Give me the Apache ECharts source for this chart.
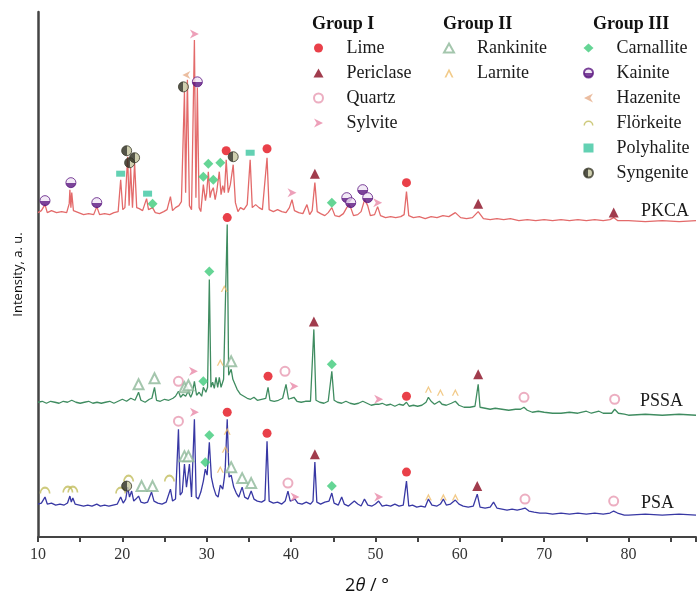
<!DOCTYPE html>
<html><head><meta charset="utf-8">
<script src="https://cdn.jsdelivr.net/npm/echarts@6/dist/echarts.min.js"></script>
<style>html,body{margin:0;padding:0;background:#fff}#c{width:699px;height:600px}</style>
</head><body><div id="c"></div>
<script>
// ---- data (2θ in degrees, intensity in arbitrary units) ----
const pkca = [[10,325],[10.4,327],[10.6,326],[10.83,333],[11.1,325],[11.6,327],[12.2,325],[12.8,326],[13.4,325],[13.7,334],[13.78,348],[13.9,330],[14.0,345],[14.2,327],[14.8,325],[15.4,323],[16.0,324],[16.6,323],[16.97,331],[17.3,323],[17.9,324],[18.5,323],[19.0,325],[19.5,326],[19.8,358],[20.05,328],[20.3,330],[20.63,381],[20.8,332],[20.98,370],[21.2,330],[21.45,375],[21.7,330],[22.0,329],[22.4,327],[22.87,339],[23.1,328],[23.58,330],[23.9,325],[24.4,324],[24.9,326],[25.3,328],[25.7,341],[25.95,327],[26.3,330],[26.7,332],[27.0,336],[27.36,446],[27.5,345],[27.71,458],[27.95,332],[28.2,328],[28.54,498],[28.72,340],[28.89,450],[29.1,330],[29.3,326],[29.6,353],[29.85,337],[30.0,345],[30.19,366],[30.4,340],[30.55,346],[30.78,350],[31.0,338],[31.2,347],[31.49,366],[31.7,343],[31.9,352],[32.1,345],[32.31,378],[32.55,345],[32.8,353],[33.14,373],[33.4,335],[33.7,326],[34.0,330],[34.4,328],[34.8,333],[35.15,378],[35.4,330],[35.8,333],[36.2,330],[36.6,328],[37.15,380],[37.4,328],[37.9,326],[38.4,328],[38.9,326],[39.4,325],[39.8,330],[40.11,338],[40.4,327],[40.9,325],[41.4,324],[41.88,333],[42.2,323],[42.5,327],[42.82,355],[43.1,326],[43.5,324],[44.0,322],[44.4,325],[44.83,330],[45.2,322],[45.7,321],[46.2,324],[46.6,330],[46.84,333],[47.07,330],[47.4,322],[47.9,323],[48.3,326],[48.72,338],[49.08,332],[49.4,322],[49.9,323],[50.26,331],[50.6,322],[51.2,320],[51.8,321],[52.4,320],[53.0,321],[53.4,323],[53.68,346],[53.95,322],[54.5,320],[55.2,321],[55.9,319],[56.6,321],[57.3,320],[58.0,322],[58.7,321],[59.47,325],[60.1,320],[60.8,319],[61.5,320],[62.18,326],[62.8,319],[63.6,318],[64.4,319],[65.2,318],[66.0,319],[67.0,317],[68.0,318],[69.0,317],[70.0,318],[71.0,317],[72.0,318],[73.0,317],[74.0,318],[75.0,317],[76.0,318],[77.0,317],[77.8,318],[78.24,320],[78.7,317],[80,317],[82,316],[84,317],[86,316],[88,317]];
const pssa = [[10,135],[10.5,136],[11,134],[11.5,136],[12,135],[12.5,134],[13,136],[13.5,135],[14,137],[14.5,135],[15,134],[15.5,135],[16,136],[16.5,134],[17,135],[17.5,134],[18,135],[18.5,136],[19,134],[19.5,136],[20,138],[20.5,136],[21,139],[21.5,137],[21.92,145],[22.2,137],[22.7,135],[23.2,138],[23.5,139],[23.81,150],[24.05,137],[24.5,136],[25,138],[25.5,137],[26,139],[26.3,141],[26.65,146],[26.9,140],[27.2,143],[27.5,141],[27.8,146],[28.1,140],[28.3,144],[28.54,156],[28.8,142],[29.1,145],[29.4,141],[29.6,150],[29.9,145],[30.1,150],[30.31,258],[30.5,150],[30.7,155],[30.9,149],[31.1,160],[31.3,150],[31.49,160],[31.7,150],[32.0,158],[32.2,160],[32.43,313],[32.6,162],[32.9,168],[33.1,158],[33.3,160],[33.6,148],[34.0,143],[34.4,141],[34.8,139],[35.2,138],[35.6,140],[36,137],[36.5,138],[37.0,139],[37.27,150],[37.5,137],[38,136],[38.5,137],[39.0,139],[39.40,153],[39.7,138],[40.0,139],[40.34,140],[40.7,136],[41.2,135],[41.7,136],[42.3,136],[42.70,208],[42.95,137],[43.4,135],[43.9,134],[44.4,136],[44.83,166],[45.1,137],[45.5,135],[46,134],[46.5,136],[47,134],[47.5,133],[48,134],[48.5,136],[49,134],[49.5,132],[50,133],[50.38,133],[50.8,134],[51.3,132],[51.8,133],[52.3,131],[52.8,133],[53.3,132],[53.68,135],[54,131],[54.5,132],[55,131],[55.5,132],[56.0,135],[56.28,140],[56.6,136],[57.0,133],[57.58,136],[57.9,133],[58.4,132],[59.0,134],[59.47,136],[59.9,132],[60.5,130],[61.2,130],[61.8,131],[62.18,153],[62.4,130],[63,129],[63.6,128],[64.2,129],[65,128],[65.8,127],[66.6,128],[67.2,128],[67.61,130],[68.0,127],[68.6,125],[69.3,126],[70,125],[71,124],[72,124],[73,125],[74,124],[75,126],[75.6,124],[76.5,126],[77.0,124],[78.0,124],[78.36,128],[78.8,124],[79.5,123],[80,122],[82,123],[84,122],[86,123],[88,122]];
const psa = [[10,33],[10.4,34],[10.83,40],[11.1,33],[11.6,34],[12.1,32],[12.6,33],[13.1,32],[13.5,34],[13.78,41],[13.95,35],[14.13,39],[14.4,33],[14.9,32],[15.4,31],[15.9,32],[16.4,31],[16.97,33],[17.4,31],[17.9,32],[18.4,31],[18.9,32],[19.4,33],[19.8,40],[20.1,34],[20.4,38],[20.63,50],[20.85,40],[21.1,46],[21.35,36],[21.6,38],[21.92,41],[22.2,35],[22.6,34],[23.0,35],[23.46,45],[23.75,36],[24.2,34],[24.7,33],[25.2,35],[25.7,48],[25.95,36],[26.3,38],[26.65,108],[26.85,42],[27.1,45],[27.36,73],[27.6,50],[27.95,73],[28.2,40],[28.35,42],[28.54,118],[28.75,40],[29.0,38],[29.3,45],[29.6,56],[29.83,68],[30.05,62],[30.31,95],[30.55,60],[30.8,50],[31.1,42],[31.35,40],[31.61,52],[31.9,48],[32.1,60],[32.2,70],[32.43,118],[32.65,60],[32.9,62],[33.2,50],[33.5,44],[33.8,40],[34.2,50],[34.5,40],[34.9,38],[35.27,46],[35.6,38],[36.0,36],[36.5,35],[36.9,37],[37.15,96],[37.4,36],[37.9,34],[38.4,35],[38.9,33],[39.3,36],[39.63,46],[39.9,36],[40.46,38],[40.8,34],[41.3,33],[41.8,35],[42.3,33],[42.6,36],[42.82,75],[43.05,35],[43.5,33],[44.0,35],[44.5,36],[44.83,44],[45.1,34],[45.6,32],[46.0,40],[46.3,33],[46.8,31],[47.5,36],[47.9,33],[48.3,31],[48.7,38],[49.1,32],[49.6,31],[50.0,33],[50.38,36],[50.8,31],[51.3,32],[51.8,31],[52.3,33],[52.8,31],[53.3,32],[53.68,56],[53.95,31],[54.4,32],[54.9,30],[55.4,31],[55.9,30],[56.28,38],[56.7,32],[57.3,31],[57.7,33],[58.05,38],[58.4,32],[58.9,33],[59.47,37],[59.9,33],[60.4,31],[61.0,30],[61.6,31],[62.07,43],[62.4,30],[63.0,29],[63.6,30],[64.0,35],[64.4,29],[65.0,28],[65.6,27],[66.2,28],[66.8,27],[67.3,28],[67.73,29],[68.2,26],[68.8,25],[69.5,24],[70.2,24],[71,23],[72,24],[73,23],[74,24],[75,23],[76,24],[77,23],[77.8,24],[78.24,26],[78.7,24],[79.5,22],[80,22],[82,23],[84,22],[86,23],[88,22]];

// phase markers [2θ, intensity]
const limeMarks = [[32.31,387],[37.15,389],[53.68,355],[32.43,320],[37.27,161],[53.68,141],[32.43,125],[37.15,104],[53.68,65]];
const periclaseMarks = [[42.82,364],[62.18,334],[78.24,325],[42.70,216],[62.18,163],[42.82,83],[62.07,51]];
const quartzMarks = [[26.65,156],[39.28,166],[67.61,140],[78.36,138],[26.65,116],[39.63,54],[67.73,38],[78.24,36]];
const sylviteMarks = [[28.54,504],[40.11,345],[50.26,335],[28.42,166],[40.34,151],[50.38,138],[28.54,125],[40.46,40],[50.38,40]];
const rankiniteMarks = [[21.92,153],[23.81,159],[27.36,150],[27.83,152],[32.90,176],[22.28,51],[23.58,51],[27.36,81],[27.83,81],[32.9,70],[34.2,59],[35.27,54]];
const larniteMarks = [[31.61,175],[32.08,249],[56.28,148],[57.7,145],[59.47,145],[31.61,68],[32.2,88],[32.43,106],[56.28,40],[58.05,40],[59.47,40]];
const carnalliteMarks = [[23.58,334],[29.60,361],[30.19,374],[30.78,358],[31.61,375],[44.83,335],[29.6,156],[30.31,266],[44.83,173],[29.83,75],[30.31,102],[44.83,51]];
const kainiteMarks = [[10.83,337],[13.90,355],[16.97,335],[28.89,456],[46.6,340],[47.07,335],[48.49,348],[49.08,340]];
const hazeniteMarks = [[27.59,463]];
const florkeiteMarks = [[10.83,47],[13.54,48],[14.13,48],[19.8,47],[20.74,59],[25.58,59]];
const polyhaliteMarks = [[19.8,364],[22.99,344],[35.15,385]];
const syngeniteMarks = [[20.51,387],[20.86,375],[21.45,380],[27.24,451],[33.14,381],[20.51,51]];

const sampleNames = ['PKCA','PSSA','PSA'];
const groupTitles = ['Group I','Group II','Group III'];
const group1 = ['Lime','Periclase','Quartz','Sylvite'];
const group2 = ['Rankinite','Larnite'];
const group3 = ['Carnallite','Kainite','Hazenite','Flörkeite','Polyhalite','Syngenite'];

// ---- chart ----
const serif = 'Liberation Serif';
function grad(vertical, c1, c2){
  return {type:'linear', x:0, y:0, x2: vertical?0:1, y2: vertical?1:0,
    colorStops:[{offset:0,color:c1},{offset:0.5,color:c1},{offset:0.5,color:c2},{offset:1,color:c2}]};
}
function marks(name, data, symbol, size, itemStyle){
  return {name, type:'scatter', data, symbol, symbolSize:size, itemStyle, z:5,
    silent:true, animation:false};
}
function trace(name, data, color){
  return {name, type:'line', data, showSymbol:false, symbol:'none', smooth:false,
    lineStyle:{color, width:1.3}, z:2, silent:true, animation:false};
}
const chart = echarts.init(document.getElementById('c'), null, {renderer:'canvas'});
const legendText = {fontFamily:serif, fontSize:18, color:'#1a1a1a', lineHeight:18, padding:[0,0,0,18]};
function legend(data, left){
  return {data, orient:'vertical', left, top:39, itemWidth:10, itemHeight:9, itemGap:7,
    padding:0, textStyle:legendText, selectedMode:false};
}
chart.setOption({
  animation:false,
  grid:{left:38, right:0, top:12, bottom:62},
  xAxis:{type:'value', min:10, max:88, interval:5,
    name:'2{i|θ} / °', nameLocation:'middle', nameGap:40,
    nameTextStyle:{fontFamily:'Open Sans', fontSize:18, color:'#111',
      rich:{i:{fontFamily:'Open Sans', fontStyle:'italic', fontSize:18, color:'#111'}}},
    axisLine:{lineStyle:{color:'#444', width:2}},
    axisTick:{show:true, length:5, lineStyle:{color:'#444', width:2}},
    axisLabel:{fontFamily:serif, fontSize:16, color:'#333', margin:10,
      formatter:v => (v % 10 === 0 ? String(v) : '')},
    splitLine:{show:false}},
  yAxis:{type:'value', min:0, max:526,
    name:'Intensity, a. u.', nameLocation:'middle', nameGap:13,
    nameTextStyle:{fontFamily:'Open Sans', fontSize:13, color:'#111'},
    axisLine:{show:true, lineStyle:{color:'#444', width:2.5}},
    axisTick:{show:false}, axisLabel:{show:false}, splitLine:{show:false}},
  legend:[legend(group1, 313), legend(group2, 443), legend(group3, 583)],
  graphic:[
    {type:'text', left:312, top:15, style:{text:groupTitles[0], font:'bold 18px "Liberation Serif"', fill:'#111'}},
    {type:'text', left:443, top:15, style:{text:groupTitles[1], font:'bold 18px "Liberation Serif"', fill:'#111'}},
    {type:'text', left:593, top:15, style:{text:groupTitles[2], font:'bold 18px "Liberation Serif"', fill:'#111'}},
    {type:'text', left:641, top:202, style:{text:sampleNames[0], font:'18px "Liberation Serif"', fill:'#1a1a1a'}},
    {type:'text', left:640, top:392, style:{text:sampleNames[1], font:'18px "Liberation Serif"', fill:'#1a1a1a'}},
    {type:'text', left:641, top:494, style:{text:sampleNames[2], font:'18px "Liberation Serif"', fill:'#1a1a1a'}}
  ],
  series:[
    trace('PKCA', pkca, '#e36a6a'),
    trace('PSSA', pssa, '#3f8c60'),
    trace('PSA', psa, '#3838a4'),
    marks('Lime', limeMarks, 'circle', 9, {color:'#e3101c'}),
    marks('Periclase', periclaseMarks, 'triangle', 10, {color:'#8a0b20'}),
    marks('Quartz', quartzMarks, 'emptyCircle', 9, {color:'#e79ab2', borderWidth:1.2}),
    marks('Sylvite', sylviteMarks, 'path://M0,0 L10,5 L0,10 L3,5 Z', 9, {color:'#e888a8'}),
    marks('Rankinite', rankiniteMarks, 'emptyTriangle', 10, {color:'#8db898', borderWidth:1.1}),
    marks('Larnite', larniteMarks, 'path://M0,10 L5,0 L10,10 L8,10 L5,4 L2,10 Z', 7, {color:'#efbd6a'}),
    marks('Carnallite', carnalliteMarks, 'diamond', 10, {color:'#3ecb7a'}),
    marks('Kainite', kainiteMarks, 'circle', 10, {color:grad(true,'#efe4f4','#5a1580'), borderColor:'#5a1580', borderWidth:1}),
    marks('Hazenite', hazeniteMarks, 'path://M10,0 L0,5 L10,10 L7,5 Z', 8, {color:'#e6ad88'}),
    marks('Flörkeite', florkeiteMarks, 'path://M0,10 A10,10 0 0 1 20,10 L17,10 A7,7 0 0 0 3,10 Z', [11,7], {color:'#c2bd5c'}),
    marks('Polyhalite', polyhaliteMarks, 'rect', [9,6], {color:'#3cc6a0'}),
    marks('Syngenite', syngeniteMarks, 'circle', 10, {color:grad(false,'#2a2a1c','#c4c49c'), borderColor:'#3a3a2a', borderWidth:1})
  ]
});
</script></body></html>
